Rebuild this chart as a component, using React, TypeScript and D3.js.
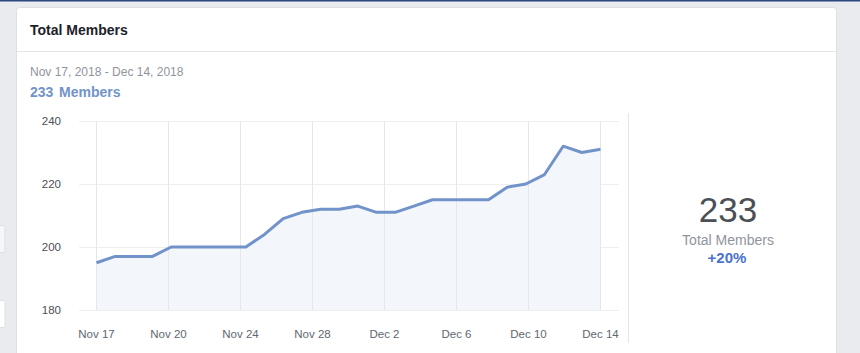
import * as d3 from "d3";
import { useEffect, useRef } from "react";

// daily member counts, Nov 17 - Dec 14 2018
const memberCounts = [
  195, 197, 197, 197, 200, 200, 200, 200, 200, 204, 209, 211, 212, 212, 213,
  211, 211, 213, 215, 215, 215, 215, 219, 220, 223, 232, 230, 231,
];
const xTickLabels = [
  "Nov 17",
  "Nov 20",
  "Nov 24",
  "Nov 28",
  "Dec 2",
  "Dec 6",
  "Dec 10",
  "Dec 14",
];
const yTicks = [180, 200, 220, 240];
const totalMembers = 233;
const growth = "+20%";

const FONT = "'Liberation Sans', Arial, Helvetica, sans-serif";

const App: React.FC = () => {
  const ref = useRef<SVGSVGElement | null>(null);

  useEffect(() => {
    if (!ref.current) return;
    const svg = d3.select(ref.current);
    svg.selectAll("*").remove();

    const width = 860;
    const height = 353;
    svg.attr("width", width).attr("height", height);

    // page background + partial neighbours
    svg.append("rect").attr("width", width).attr("height", height).attr("fill", "#e9ebee");
    svg.append("rect").attr("width", width).attr("height", 1.5).attr("fill", "#29487d");
    svg
      .append("rect")
      .attr("x", -6)
      .attr("y", 225.5)
      .attr("width", 11)
      .attr("height", 27)
      .attr("rx", 2)
      .attr("fill", "#f5f6f7")
      .attr("stroke", "#dddfe2");
    svg
      .append("rect")
      .attr("x", -6)
      .attr("y", 300.5)
      .attr("width", 11)
      .attr("height", 27)
      .attr("rx", 2)
      .attr("fill", "#ffffff")
      .attr("stroke", "#dddfe2");

    // card
    svg
      .append("rect")
      .attr("x", 16.5)
      .attr("y", 7.5)
      .attr("width", 820)
      .attr("height", 360)
      .attr("rx", 3)
      .attr("fill", "#ffffff")
      .attr("stroke", "#dddfe2");
    svg
      .append("line")
      .attr("x1", 17)
      .attr("x2", 836)
      .attr("y1", 51.5)
      .attr("y2", 51.5)
      .attr("stroke", "#e5e5e5");

    svg
      .append("text")
      .attr("x", 30)
      .attr("y", 35)
      .attr("font-family", FONT)
      .attr("font-size", 14)
      .attr("font-weight", "bold")
      .attr("fill", "#1d2129")
      .text("Total Members");

    svg
      .append("text")
      .attr("x", 30)
      .attr("y", 76)
      .attr("font-family", FONT)
      .attr("font-size", 12)
      .attr("fill", "#90949c")
      .text("Nov 17, 2018 - Dec 14, 2018");

    const headline = svg
      .append("text")
      .attr("y", 97)
      .attr("font-family", FONT)
      .attr("font-size", 14)
      .attr("font-weight", "bold")
      .attr("fill", "#7293c9");
    headline.append("tspan").attr("x", 30).text(String(totalMembers));
    headline.append("tspan").attr("x", 59).text("Members");

    // chart
    const x = d3
      .scaleLinear()
      .domain([0, memberCounts.length - 1])
      .range([96.5, 600.5]);
    const xGrid = d3.scalePoint<string>().domain(xTickLabels).range([96.5, 600.5]);
    const y = d3.scaleLinear().domain([180, 240]).range([310, 121]);

    const g = svg.append("g");

    g.append("g")
      .selectAll("line")
      .data(yTicks)
      .join("line")
      .attr("x1", 79)
      .attr("x2", 619)
      .attr("y1", (d) => Math.round(y(d)) + 0.5)
      .attr("y2", (d) => Math.round(y(d)) + 0.5)
      .attr("stroke", "#eeeff1");

    g.append("path")
      .datum(memberCounts)
      .attr("fill", "#f3f6fb")
      .attr(
        "d",
        d3
          .area<number>()
          .x((_, i) => x(i))
          .y0(y(180))
          .y1((d) => y(d))
      );

    g.append("g")
      .selectAll("line")
      .data(xTickLabels)
      .join("line")
      .attr("x1", (d) => xGrid(d)!)
      .attr("x2", (d) => xGrid(d)!)
      .attr("y1", y(240))
      .attr("y2", y(180))
      .attr("stroke", "#e5e7eb");

    g.append("path")
      .datum(memberCounts)
      .attr("fill", "none")
      .attr("stroke", "#7193c9")
      .attr("stroke-width", 3)
      .attr("stroke-linejoin", "round")
      .attr(
        "d",
        d3
          .line<number>()
          .x((_, i) => x(i))
          .y((d) => y(d))
      );

    g.append("g")
      .selectAll("text")
      .data(yTicks)
      .join("text")
      .attr("x", 61)
      .attr("y", (d) => y(d) + 4)
      .attr("text-anchor", "end")
      .attr("font-family", FONT)
      .attr("font-size", 11.5)
      .attr("fill", "#4b4f56")
      .text((d) => d);

    g.append("g")
      .selectAll("text")
      .data(xTickLabels)
      .join("text")
      .attr("x", (d) => xGrid(d)!)
      .attr("y", 338)
      .attr("text-anchor", "middle")
      .attr("font-family", FONT)
      .attr("font-size", 11.5)
      .attr("fill", "#616770")
      .text((d) => d);

    // summary panel
    svg
      .append("line")
      .attr("x1", 628.5)
      .attr("x2", 628.5)
      .attr("y1", 113)
      .attr("y2", 343)
      .attr("stroke", "#e5e5e5");

    svg
      .append("text")
      .attr("x", 728)
      .attr("y", 222)
      .attr("text-anchor", "middle")
      .attr("font-family", FONT)
      .attr("font-size", 35)
      .attr("fill", "#4b4f56")
      .text(String(totalMembers));
    svg
      .append("text")
      .attr("x", 728)
      .attr("y", 245)
      .attr("text-anchor", "middle")
      .attr("font-family", FONT)
      .attr("font-size", 14)
      .attr("fill", "#90949c")
      .text("Total Members");
    svg
      .append("text")
      .attr("x", 727)
      .attr("y", 263)
      .attr("text-anchor", "middle")
      .attr("font-family", FONT)
      .attr("font-size", 15)
      .attr("font-weight", "bold")
      .attr("fill", "#4a72cf")
      .text(growth);
  }, []);

  return (
    <svg
      ref={ref}
      style={{ position: "absolute", left: 0, top: 0, display: "block" }}
    ></svg>
  );
};

export default App;
